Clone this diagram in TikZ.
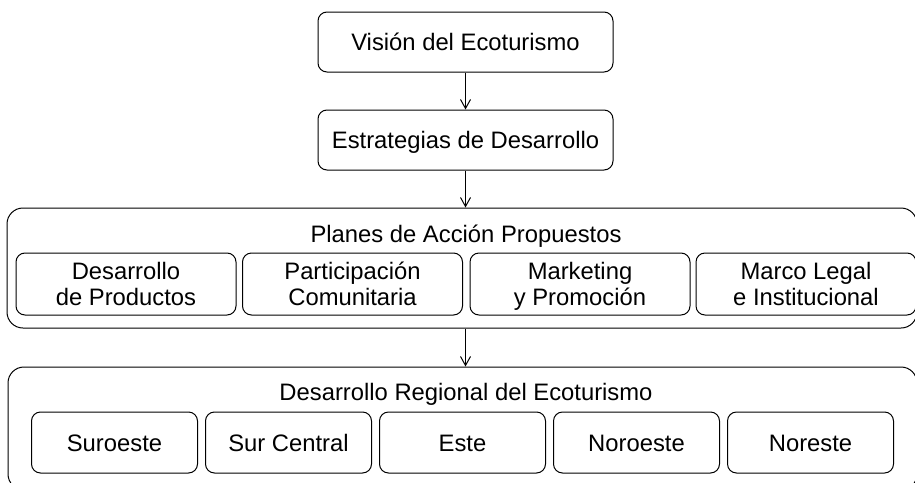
\documentclass[tikz,border=0pt]{standalone}
\usepackage{fontspec}
\setmainfont{Liberation Sans}
\usetikzlibrary{arrows.meta,positioning}

\begin{document}
\begin{tikzpicture}[x=1pt,y=-1pt,
  caja/.style={draw, line width=1pt, rounded corners=9pt, align=center, inner sep=0pt,
    text height=17pt, text depth=0pt},
  caja2/.style={caja, text height=43.5pt},
  marco/.style={draw, line width=1pt, rounded corners=16pt, inner sep=0pt},
  flecha/.style={line width=1pt, -{Straight Barb[length=9pt,width=10pt]}},
  every node/.style={font=\fontsize{23.8}{26.5}\selectfont}]

  \useasboundingbox (0,0) rectangle (915,482);
  \clip (0,0) rectangle (915,482);

  \node[caja, minimum width=295pt, minimum height=60pt] (vision) at (465.5,42) {Visión del Ecoturismo};
  \node[caja, minimum width=295pt, minimum height=60pt] (estrategias) at (465.5,140) {Estrategias de Desarrollo};

  % planes de accion
  \node[marco, minimum width=910pt, minimum height=120pt] (planes) at (462,268) {};
  \node[anchor=base] (planestit) at (466,242) {Planes de Acción Propuestos};
  \foreach \nom/\x/\txt in {desarrollo/126/{Desarrollo\\de Productos},
      participacion/352.5/{Participación\\Comunitaria},
      marketing/580/{Marketing\\y Promoción},
      legal/806/{Marco Legal\\e Institucional}}
    \node[caja2, minimum width=220pt, minimum height=62pt] (\nom) at (\x,284) {\txt};

  % regiones
  \node[marco, minimum width=909pt, minimum height=123pt] (regional) at (462.5,428.5) {};
  \node[anchor=base] (regionaltit) at (466,400) {Desarrollo Regional del Ecoturismo};
  \foreach \nom/\x/\txt in {suroeste/114.5/Suroeste, surcentral/288.5/Sur Central,
      este/462.5/Este, noroeste/636.5/Noroeste, noreste/810.5/Noreste}
    \node[caja, minimum width=166pt, minimum height=61pt] (\nom) at (\x,442.5) {\txt};

  \draw[flecha] (vision) -- (estrategias);
  \draw[flecha] (estrategias) -- (estrategias |- planes.north);
  \draw[flecha] (planes.south -| estrategias) -- (regional.north -| estrategias);

\end{tikzpicture}
\end{document}
